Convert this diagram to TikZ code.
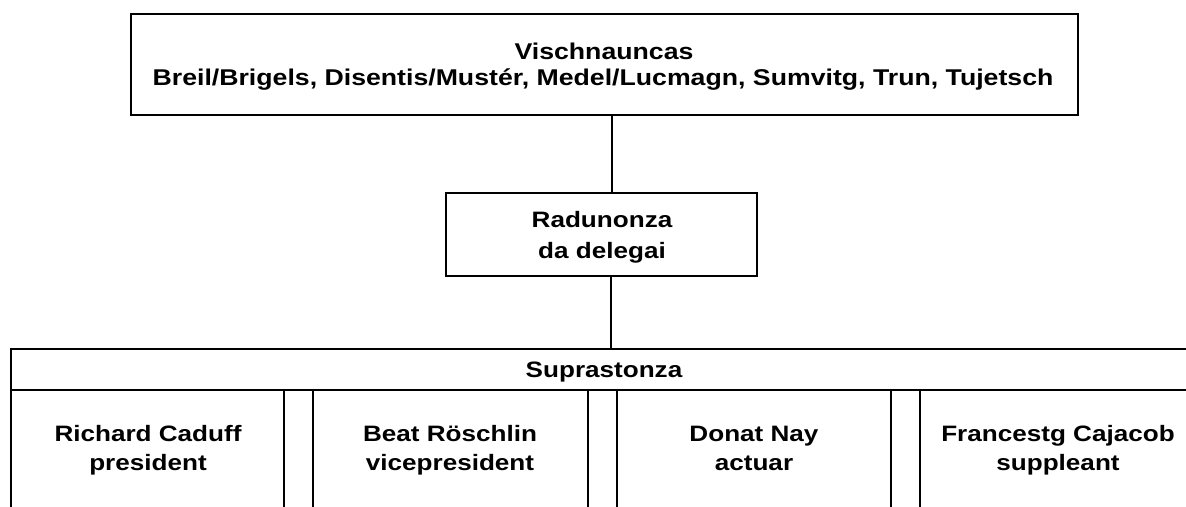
\documentclass[tikz,border=0pt]{standalone}
\usepackage{fontspec}
\newfontfamily\lab{Liberation Sans}[FakeStretch=1.17]
\begin{document}
\begin{tikzpicture}[x=1pt,y=-1pt,
  box/.style={draw=black,line width=2.5pt,rectangle,inner sep=0pt},
  conn/.style={draw=black,line width=2.5pt},
  txt/.style={anchor=base,inner sep=0pt,font=\lab\bfseries\fontsize{22.3}{26}\selectfont},
  toptxt/.style={txt,font=\lab\bfseries\fontsize{22.8}{26}\selectfont}]
\useasboundingbox (0,0) rectangle (1186,506);
\fill[white] (0,0) rectangle (1186,506);
% top box
\node[box,minimum width=947pt,minimum height=101pt] (vis) at (604.5,64.5) {};
\node[toptxt] (vis1) at (604,59) {Vischnauncas};
\node[toptxt] (vis2) at (603,85.5) {Breil/Brigels, Disentis/Mustér, Medel/Lucmagn, Sumvitg, Trun, Tujetsch};
% delegates box
\node[box,minimum width=311pt,minimum height=83pt] (rad) at (601.5,234.5) {};
\node[txt] (rad1) at (602,227) {Radunonza};
\node[txt] (rad2) at (602,258) {da delegai};
% table
\coordinate (tl) at (11,349);
\coordinate (tr) at (1200,349);
\coordinate (hl) at (11,390);
\coordinate (hr) at (1200,390);
\coordinate (bl) at (11,520);
\draw[conn] (tr) -- (tl) -- (bl);
\draw[conn] (hl) -- (hr);
\node[txt] (sup) at (604,377) {Suprastonza};
\foreach \xx/\nm in {284/a,313/b,588/c,617/d,891/e,920/f}{
  \coordinate (top\nm) at (\xx,390);
  \coordinate (bot\nm) at (\xx,520);
  \draw[conn] (top\nm) -- (bot\nm);
}
% connectors
\coordinate (c1) at (612,115);
\coordinate (c2) at (612,193);
\draw[conn] (vis.south -| c1) -- (rad.north -| c2);
\coordinate (c3) at (611,276);
\draw[conn] (rad.south -| c3) -- (c3 |- tl);
% cells
\node[txt] (p1a) at (148,441) {Richard Caduff};
\node[txt] (p1b) at (148,470) {president};
\node[txt] (p2a) at (450,441) {Beat Röschlin};
\node[txt] (p2b) at (450,470) {vicepresident};
\node[txt] (p3a) at (754,441) {Donat Nay};
\node[txt] (p3b) at (754,470) {actuar};
\node[txt] (p4a) at (1058,441) {Francestg Cajacob};
\node[txt] (p4b) at (1058,470) {suppleant};
\end{tikzpicture}
\end{document}
